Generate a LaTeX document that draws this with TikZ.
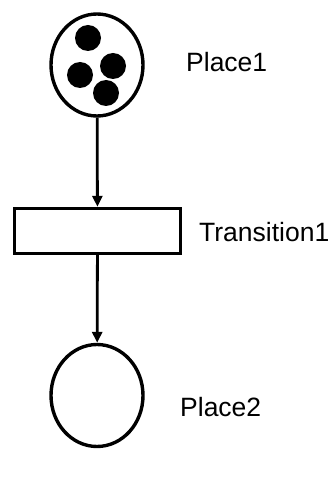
\documentclass[tikz,border=0pt]{standalone}
\usepackage{fontspec}
\setmainfont{Liberation Sans}
\usepackage{tikz}
\usetikzlibrary{positioning, shapes.geometric, arrows.meta}

\tikzset{
  place/.style={draw, ellipse, line width=3.4pt, minimum width=92pt, minimum height=102pt, inner sep=0pt},
  trans/.style={draw, rectangle, line width=3.4pt, minimum width=166pt, minimum height=45pt, inner sep=0pt},
  lbl/.style={anchor=base west, inner sep=0pt, font=\fontsize{26.5}{30}\selectfont},
  arc/.style={line width=2.8pt, -{Triangle[length=11pt,width=10pt]}}
}

\begin{document}
\begin{tikzpicture}[x=1pt,y=-1pt]
\useasboundingbox (0,0) rectangle (331,494);
% place 1 with four tokens
\node[place] (p1) at (97,65) {};
\fill (88,38) circle (13);
\fill (80,75) circle (13);
\fill (113,66) circle (13);
\fill (106,93) circle (13);
\node[lbl] (p1l) at (186,71.5) {Place1};
% transition 1
\node[trans] (t1) at (97.5,231) {};
\node[lbl] (t1l) at (199,241.5) {Transition1};
% place 2, empty
\node[place] (p2) at (97,395.5) {};
\node[lbl] (p2l) at (180,416.5) {Place2};
% arcs
\draw[arc] (p1) -- (t1);
\draw[arc] (t1) -- (p2);
\end{tikzpicture}
\end{document}
